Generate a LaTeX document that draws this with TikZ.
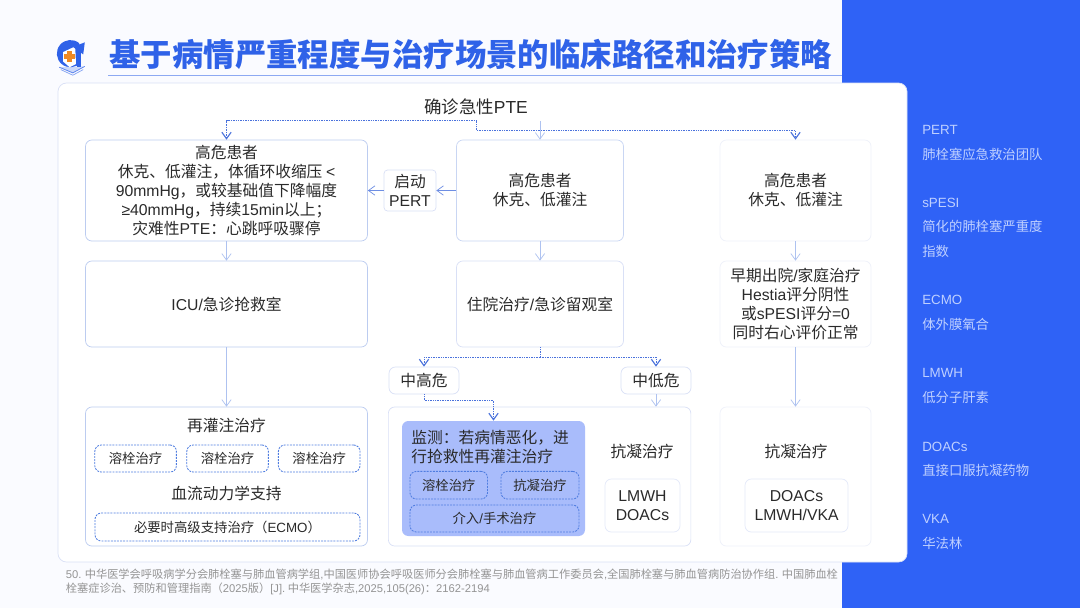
\documentclass[tikz,border=0pt]{standalone}
\usepackage{fontspec}
\setmainfont{Noto Sans CJK SC}
\newfontfamily\latfont{Liberation Sans}
\newcommand{\lat}[1]{{\latfont #1}}
\usepackage{xcolor}
\usetikzlibrary{arrows.meta}
\definecolor{pagebg}{HTML}{FAFBFF}
\definecolor{sideblue}{HTML}{2F62F6}
\definecolor{titleblue}{HTML}{2F62E8}
\definecolor{sidetext}{HTML}{BFD0FF}
\definecolor{inkdark}{HTML}{2A2A2A}
\definecolor{linelight}{HTML}{AEC2F0}
\definecolor{linedot}{HTML}{4A72DC}
\definecolor{edgea}{HTML}{BCCCF0}
\definecolor{edgeb}{HTML}{D9E0F6}
\definecolor{edgec}{HTML}{EEF1FA}
\definecolor{monitorblue}{HTML}{A9BCFB}
\definecolor{dashblue}{HTML}{4F7DE0}
\definecolor{logoorange}{HTML}{F08A24}

\begin{document}
\begin{tikzpicture}[
  font=\fontsize{11.2}{13.5}\selectfont,text=inkdark,
  box/.style={draw=edgea,fill=white,rounded corners=4.5pt,line width=0.5pt,align=center,inner sep=0pt},
  softbox/.style={box,draw=edgeb},
  paleBox/.style={box,draw=edgec},
  dashbox/.style={box,draw=dashblue,line width=0.6pt,dash pattern=on 1.4pt off 0.8pt,font=\fontsize{9.5}{12}\selectfont},
  plain/.style={inner sep=0pt,align=center},
  side/.style={anchor=west,inner sep=0pt,text=sidetext,font=\fontsize{9.5}{12}\selectfont},
  link/.style={draw=linelight,line width=0.5pt,-{Straight Barb[length=4.6pt,width=6.6pt]}},
  dotline/.style={draw=linedot,line width=0.7pt,dash pattern=on 0.7pt off 0.5pt},
  dotlink/.style={dotline,-{Straight Barb[length=4.6pt,width=6.6pt,line width=0.8pt]}}
]
  \useasboundingbox (0,0) rectangle (27,-15.2);
  \fill[pagebg] (0,0) rectangle (27,-15.2);
  \fill[sideblue] (21.05,0) rectangle (27,-15.2);
  \filldraw[draw=edgeb,fill=white,rounded corners=6pt,line width=0.5pt] (1.45,-2.075) rectangle (22.675,-14.05);

  \fill[titleblue!25] (1.48,-1.68) -- (2.12,-1.66) -- (1.82,-1.84) -- cycle;
  \fill[titleblue] (1.98,-1.08) arc (50:320:0.34) -- cycle;
  \fill[white] (1.58,-1.3) -- (1.88,-1.16) -- (1.9,-1.6) -- (1.74,-1.68) -- (1.58,-1.54) -- cycle;
  \fill[logoorange] (1.68,-1.27) rectangle (1.8,-1.55);
  \fill[logoorange] (1.6,-1.35) rectangle (1.88,-1.47);
  \fill[titleblue] (1.93,-1.2) rectangle (2.02,-1.68);
  \fill[titleblue] (2.12,-1.06) -- (1.82,-1.17) -- (2.08,-1.36) -- cycle;
  \draw[titleblue!80,line width=0.5pt] (1.48,-1.68) -- (1.82,-1.82) -- (2.12,-1.66);
  \draw[titleblue!60,line width=0.5pt] (1.52,-1.74) -- (1.82,-1.88) -- (2.08,-1.74);

  \node[plain,text=titleblue,font=\fontsize{22.35}{26}\selectfont\bfseries] (title) at (11.77,-1.365) {基于病情严重程度与治疗场景的临床路径和治疗策略};
  \coordinate (ruleleft) at (2.7,-1.875);
  \coordinate (ruleright) at (21.05,-1.875);
  \draw[draw=titleblue!55,line width=0.6pt] (ruleleft) -- (ruleright);

  \node[plain,font=\fontsize{12.4}{15}\selectfont] (start) at (11.9,-2.675) {确诊急性\lat{PTE}};

  \node[box,minimum width=7.05cm,minimum height=2.525cm] (high1) at (5.6625,-4.7625) {高危患者\\休克、低灌注，体循环收缩压\hspace{2.5pt}\lat{<}\\\lat{90mmHg}，或较基础值下降幅度\\\lat{≥40mmHg}，持续\lat{15min}以上；\\灾难性\lat{PTE}：心跳呼吸骤停};
  \node[softbox,minimum width=1.3cm,minimum height=1.025cm,rounded corners=2.5pt] (pert) at (10.25,-4.7625) {启动\\\lat{PERT}};
  \node[softbox,draw=edgea!80,minimum width=4.175cm,minimum height=2.525cm] (high2) at (13.5,-4.7625) {高危患者\\休克、低灌注};
  \node[paleBox,minimum width=3.775cm,minimum height=2.525cm] (high3) at (19.8875,-4.7625) {高危患者\\休克、低灌注};

  \node[box,minimum width=7.05cm,minimum height=2.15cm] (icu) at (5.6625,-7.6) {\lat{ICU/}急诊抢救室};
  \node[softbox,minimum width=4.175cm,minimum height=2.15cm] (ward) at (13.5,-7.6) {住院治疗\lat{/}急诊留观室};
  \node[paleBox,minimum width=3.775cm,minimum height=2.15cm] (home) at (19.8875,-7.6) {早期出院\lat{/}家庭治疗\\\lat{Hestia}评分阴性\\或\lat{sPESI}评分\lat{=0}\\同时右心评价正常};

  \node[softbox,minimum width=1.75cm,minimum height=0.675cm] (midhigh) at (10.6,-9.5125) {中高危};
  \node[softbox,minimum width=1.75cm,minimum height=0.675cm] (midlow) at (16.4,-9.5125) {中低危};

  \node[box,minimum width=7.05cm,minimum height=3.475cm] (reperf) at (5.6625,-11.9125) {};
  \node[softbox,minimum width=7.5625cm,minimum height=3.475cm] (midcare) at (13.49,-11.9125) {};
  \node[paleBox,minimum width=3.775cm,minimum height=3.475cm] (lowcare) at (19.8875,-11.9125) {};

  \node[plain] (reperftext) at (5.66,-10.625) {再灌注治疗};
  \node[dashbox,minimum width=2.04cm,minimum height=0.675cm] (lysisa) at (3.39,-11.4625) {溶栓治疗};
  \node[dashbox,minimum width=2.04cm,minimum height=0.675cm] (lysisb) at (5.69,-11.4625) {溶栓治疗};
  \node[dashbox,minimum width=2.04cm,minimum height=0.675cm] (lysisc) at (7.98,-11.4625) {溶栓治疗};
  \node[plain] (hemotext) at (5.66,-12.325) {血流动力学支持};
  \node[dashbox,minimum width=6.625cm,minimum height=0.7cm] (ecmo) at (5.6875,-13.175) {必要时高级支持治疗（\lat{ECMO}）};

  \node[box,draw=none,fill=monitorblue,minimum width=4.575cm,minimum height=2.875cm] (monitor) at (12.3375,-11.9625) {};
  \node[plain,anchor=west,align=left] (monitortext) at (10.28,-11.1825) {监测：若病情恶化，进\\行抢救性再灌注治疗};
  \node[dashbox,fill=none,minimum width=1.94cm,minimum height=0.69cm] (lysisd) at (11.21875,-12.13) {溶栓治疗};
  \node[dashbox,fill=none,minimum width=1.95cm,minimum height=0.69cm] (anticoa) at (13.5,-12.13) {抗凝治疗};
  \node[dashbox,fill=none,minimum width=4.225cm,minimum height=0.675cm] (surgery) at (12.3625,-12.9625) {介入\lat{/}手术治疗};

  \node[plain] (anticob) at (16.05,-11.275) {抗凝治疗};
  \node[paleBox,draw=edgeb!70,minimum width=1.875cm,minimum height=1.325cm] (drugsa) at (16.0625,-12.6375) {\lat{LMWH}\\\lat{DOACs}};
  \node[plain] (anticoc) at (19.9,-11.275) {抗凝治疗};
  \node[paleBox,draw=edgeb!70,minimum width=2.575cm,minimum height=1.325cm] (drugsb) at (19.9125,-12.6375) {\lat{DOACs}\\\lat{LMWH/VKA}};

  \coordinate (splita) at (11.9175,-3.02);
  \coordinate (splitb) at (11.9175,-3.27);
  \coordinate (splitc) at (13.5,-8.925);
  \coordinate (splitd) at (10.6,-10.01);
  \draw[dotlink] (splita) -| (high1.north);
  \draw[dotlink] (splita) -- (splitb) -| (high3.north);
  \draw[link] (splita -| high2.north) -- (high2.north);
  \draw[link,draw=linedot!80] (high2.west) -- (pert.east);
  \draw[link,draw=linedot!80] (pert.west) -- (high1.east);
  \draw[link] (high1.south) -- (icu.north);
  \draw[link] (high2.south) -- (ward.north);
  \draw[link] (high3.south) -- (home.north);
  \draw[link] (icu.south) -- (reperf.north);
  \draw[link] (home.south) -- (lowcare.north);
  \draw[dotline] (ward.south) -- (splitc);
  \draw[dotlink] (splitc) -| (midhigh.north);
  \draw[dotlink] (splitc) -| (midlow.north);
  \draw[dotlink] (midhigh.south) -- (splitd) -| (monitor.north);
  \draw[link] (midlow.south) -- (midlow.south |- midcare.north);

  \node[side] (perta) at (23.05,-3.235) {\lat{PERT}};
  \node[side] (pertb) at (23.05,-3.85) {肺栓塞应急救治团队};
  \node[side] (pesia) at (23.05,-5.06) {\lat{sPESI}};
  \node[side] (pesib) at (23.05,-5.65) {简化的肺栓塞严重度};
  \node[side] (pesic) at (23.05,-6.275) {指数};
  \node[side] (ecmoa) at (23.05,-7.5) {\lat{ECMO}};
  \node[side] (ecmob) at (23.05,-8.1) {体外膜氧合};
  \node[side] (lmwha) at (23.05,-9.32) {\lat{LMWH}};
  \node[side] (lmwhb) at (23.05,-9.925) {低分子肝素};
  \node[side] (doaca) at (23.05,-11.16) {\lat{DOACs}};
  \node[side] (doacb) at (23.05,-11.75) {直接口服抗凝药物};
  \node[side] (vkaa) at (23.05,-12.96) {\lat{VKA}};
  \node[side] (vkab) at (23.05,-13.575) {华法林};

  \node[plain,anchor=west,align=left,text=black!42,font=\fontsize{7.98}{10}\selectfont] (source) at (1.64,-14.55) {\lat{50.} 中华医学会呼吸病学分会肺栓塞与肺血管病学组\lat{,}中国医师协会呼吸医师分会肺栓塞与肺血管病工作委员会\lat{,}全国肺栓塞与肺血管病防治协作组\lat{.} 中国肺血栓\\栓塞症诊治、预防和管理指南（\lat{2025}版）\lat{[J].} 中华医学杂志\lat{,2025,105(26)}：\lat{2162-2194}};
\end{tikzpicture}
\end{document}
